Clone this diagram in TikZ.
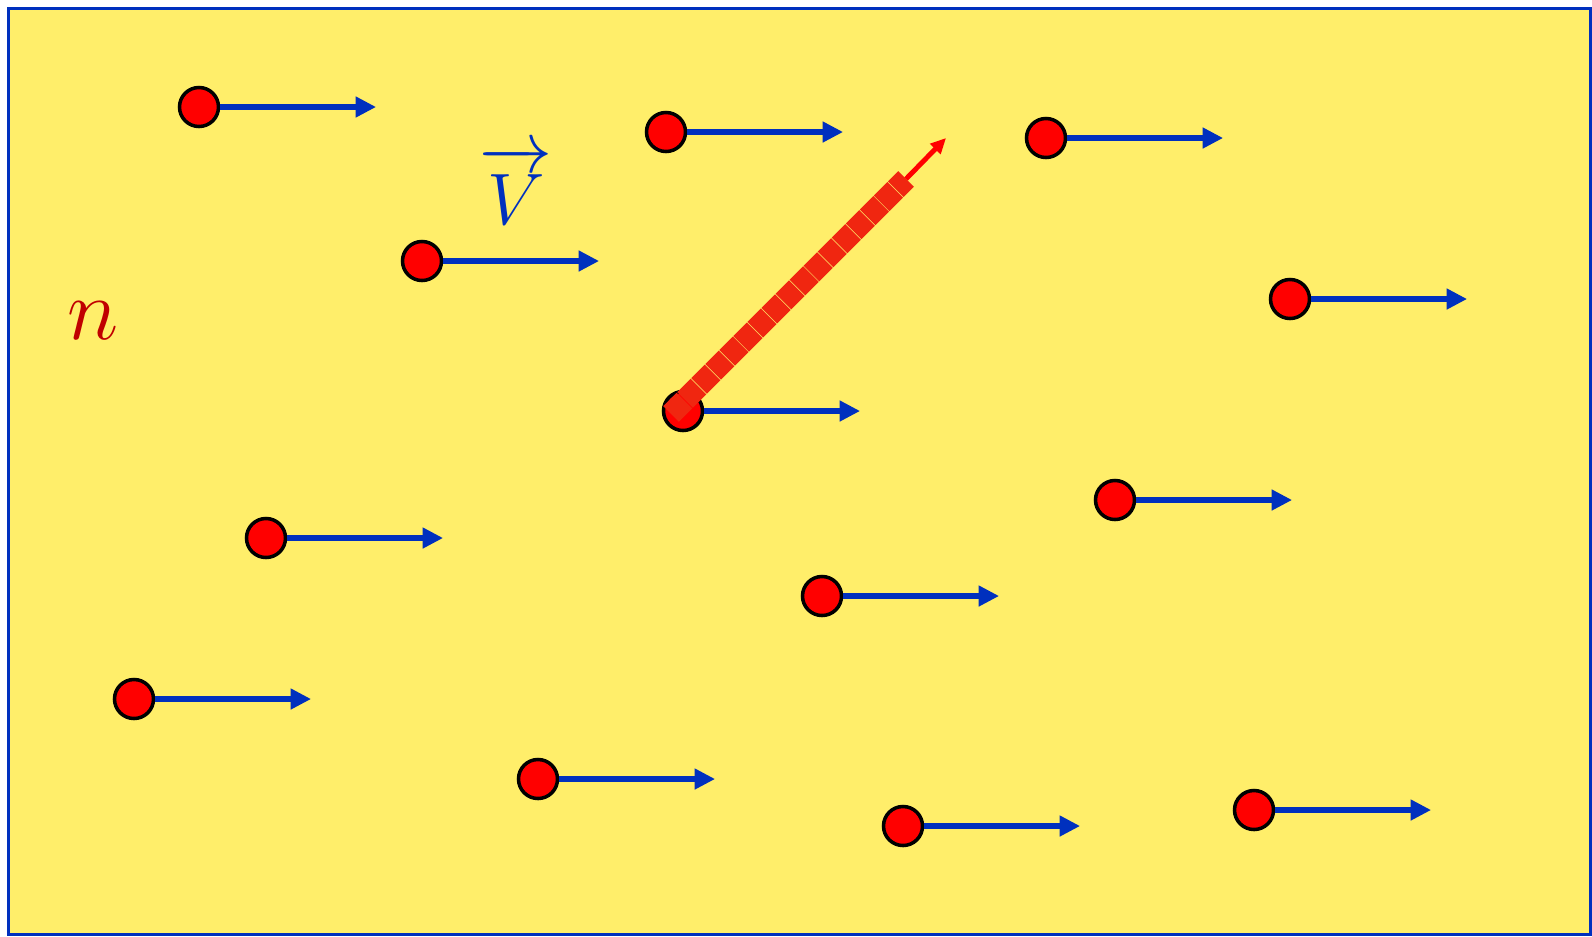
\documentclass[tikz,border=0pt]{standalone}
\usepackage{xcolor}
\usepackage{tikz}
\usetikzlibrary{arrows.meta,positioning}

\definecolor{bgyellow}{RGB}{255,238,106}
\definecolor{velblue}{RGB}{0,48,190}
\definecolor{dotred}{RGB}{255,0,0}
\definecolor{dashred}{RGB}{240,38,16}
\definecolor{labelred}{RGB}{192,0,0}

\begin{document}
\begin{tikzpicture}[
  x=0.01cm, y=-0.01cm,
  frame/.style={draw=velblue, line width=3pt*0.2845, fill=bgyellow},
  dot/.style={circle, draw=black, line width=1pt, fill=dotred, minimum size=0.39cm, inner sep=0pt},
  vel/.style={velblue, line width=1.6pt, -{Triangle[length=5.8pt, width=5.6pt]}},
  flow/.style={dashred, line width=6.3pt, dash pattern=on 5.4pt off 0.25pt},
  tip/.style={dotred, line width=1.4pt, -{Triangle[length=4.4pt, width=4pt]}}
]
\path[use as bounding box] (0,0) rectangle (1592,936);
\path[frame] (8.5,8.5) rectangle (1590.5,934.5);

\node[dot] (p1) at (199,107) {};
\node[dot] (p2) at (666,132) {};
\node[dot] (p3) at (1046,138) {};
\node[dot] (p4) at (422,261) {};
\node[dot] (p5) at (1290,299) {};
\node[dot] (p6) at (683,411) {};
\node[dot] (p7) at (1115,500) {};
\node[dot] (p8) at (266,538) {};
\node[dot] (p9) at (822,596) {};
\node[dot] (p10) at (134,699) {};
\node[dot] (p11) at (538,779) {};
\node[dot] (p12) at (903,826) {};
\node[dot] (p13) at (1254,810) {};

\coordinate (e1) at ([xshift=1.77cm]p1.center);
\coordinate (e2) at ([xshift=1.77cm]p2.center);
\coordinate (e3) at ([xshift=1.77cm]p3.center);
\coordinate (e4) at ([xshift=1.77cm]p4.center);
\coordinate (e5) at ([xshift=1.77cm]p5.center);
\coordinate (e6) at ([xshift=1.77cm]p6.center);
\coordinate (e7) at ([xshift=1.77cm]p7.center);
\coordinate (e8) at ([xshift=1.77cm]p8.center);
\coordinate (e9) at ([xshift=1.77cm]p9.center);
\coordinate (e10) at ([xshift=1.77cm]p10.center);
\coordinate (e11) at ([xshift=1.77cm]p11.center);
\coordinate (e12) at ([xshift=1.77cm]p12.center);
\coordinate (e13) at ([xshift=1.77cm]p13.center);

\draw[vel] (p1) -- (e1);
\draw[vel] (p2) -- (e2);
\draw[vel] (p3) -- (e3);
\draw[vel] (p4) -- (e4);
\draw[vel] (p5) -- (e5);
\draw[vel] (p6) -- (e6);
\draw[vel] (p7) -- (e7);
\draw[vel] (p8) -- (e8);
\draw[vel] (p9) -- (e9);
\draw[vel] (p10) -- (e10);
\draw[vel] (p11) -- (e11);
\draw[vel] (p12) -- (e12);
\draw[vel] (p13) -- (e13);

\coordinate (flowstart) at (671,414);
\coordinate (flowend) at (906,179);
\coordinate (flowtip) at (946,138);
\draw[flow] (flowstart) -- (flowend);
\draw[tip] (flowend) -- (flowtip);

\node[text=velblue, font=\fontsize{20}{24}\selectfont] (vlabel) at (516,185) {$\overrightarrow{\raisebox{0pt}[1.12\height]{$V$}}$};
\node[text=labelred, font=\fontsize{30}{36}\selectfont] (nlabel) at (93,321) {$n$};
\end{tikzpicture}
\end{document}
